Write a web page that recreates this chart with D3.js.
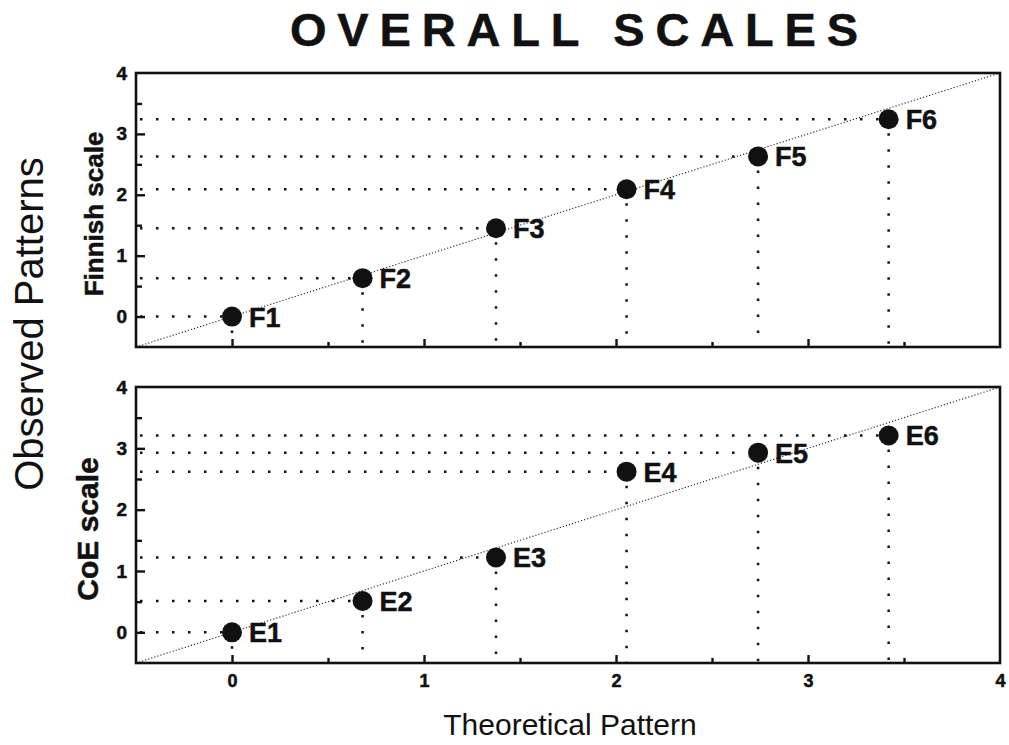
<!DOCTYPE html>
<html>
<head>
<meta charset="utf-8">
<script src="https://cdn.jsdelivr.net/npm/d3@7"></script>
<style>
  html, body { margin: 0; padding: 0; background: #fff; }
  svg { display: block; font-family: "Liberation Sans", Arial, Helvetica, sans-serif; }
</style>
</head>
<body>
<div id="chart"></div>
<script>
// theoretical pattern positions (shared by both panels)
const theory = [0, 0.68, 1.375, 2.055, 2.74, 3.42];
const finnishValues = [0, 0.63, 1.45, 2.09, 2.63, 3.24];
const finnishLabels = ["F1", "F2", "F3", "F4", "F5", "F6"];
const coeValues = [0, 0.51, 1.22, 2.62, 2.93, 3.21];
const coeLabels = ["E1", "E2", "E3", "E4", "E5", "E6"];
const majorTicks = [0, 1, 2, 3, 4];
const minorTicks = [0.5, 1.5, 2.5, 3.5];

const W = 1009, H = 745;
const frame = { left: 136, right: 1000 };
const panels = [
    { name: "Finnish scale", values: finnishValues, labels: finnishLabels, top: 73, bottom: 347, nameX: 94, nameSize: 26 },
    { name: "CoE scale", values: coeValues, labels: coeLabels, top: 387, bottom: 663, nameX: 87, nameSize: 30 }
];

const svg = d3.select("#chart").append("svg")
.attr("width", W)
.attr("height", H)
.attr("viewBox", `0 0 ${ W } ${ H }`);

const x = d3.scaleLinear().domain([-0.5, 4]).range([frame.left, frame.right]);

const dotted = sel => sel
.attr("stroke", "#111")
.attr("stroke-width", 2.5)
.attr("stroke-dasharray", "2.5,13.5");

// heavier bold, closer to the printed face
const heavy = (sel, size) => sel
.attr("font-size", size)
.attr("font-weight", "bold")
.attr("fill", "#111")
.attr("stroke", "#111")
.attr("stroke-width", 0.5);

panels.forEach((p, pi) => {
    const y = d3.scaleLinear().domain([-0.5, 4]).range([p.bottom, p.top]);
    const g = svg.append("g").attr("class", "panel");

    const clipId = "clip" + pi;
    svg.append("clipPath").attr("id", clipId)
    .append("rect")
    .attr("x", frame.left).attr("y", p.top)
    .attr("width", frame.right - frame.left).attr("height", p.bottom - p.top);

    // identity line y = x
    g.append("line")
    .attr("clip-path", `url(#${ clipId })`)
    .attr("x1", x(-0.5)).attr("y1", y(-0.5))
    .attr("x2", x(4)).attr("y2", y(4))
    .attr("stroke", "#222")
    .attr("stroke-width", 1.1)
    .attr("stroke-dasharray", "1.2,2");

    const pts = theory.map((t, i) => ({ t, v: p.values[i], label: p.labels[i] }));

    // horizontal dotted guides from the axis to the point
    g.selectAll(".hguide")
    .data(pts)
    .enter()
    .append("line")
    .attr("class", "hguide")
    .attr("x1", x(-0.5) + 4)
    .attr("x2", d => x(d.t) - 10)
    .attr("y1", d => y(d.v))
    .attr("y2", d => y(d.v))
    .call(dotted);

    // vertical dotted guides from the point down to the axis
    g.selectAll(".vguide")
    .data(pts)
    .enter()
    .append("line")
    .attr("class", "vguide")
    .attr("x1", d => x(d.t))
    .attr("x2", d => x(d.t))
    .attr("y1", d => y(d.v) + 14)
    .attr("y2", y(-0.5))
    .call(dotted);

    // frame
    g.append("rect")
    .attr("x", frame.left).attr("y", p.top)
    .attr("width", frame.right - frame.left).attr("height", p.bottom - p.top)
    .attr("fill", "none")
    .attr("stroke", "#111")
    .attr("stroke-width", 2.6);

    // y axis, ticks pointing inward
    const yMajor = g.append("g")
    .attr("transform", `translate(${ frame.left },0)`)
    .call(d3.axisLeft(y).tickValues(majorTicks).tickSize(-9).tickPadding(9).tickFormat(d3.format("d")));
    const yMinor = g.append("g")
    .attr("transform", `translate(${ frame.left },0)`)
    .call(d3.axisLeft(y).tickValues(minorTicks).tickSize(-6).tickFormat(""));

    // x axis, ticks pointing inward
    const xMajor = g.append("g")
    .attr("transform", `translate(0,${ p.bottom })`)
    .call(d3.axisBottom(x).tickValues(majorTicks).tickSize(-8).tickPadding(11).tickFormat(d3.format("d")));
    const xMinor = g.append("g")
    .attr("transform", `translate(0,${ p.bottom })`)
    .call(d3.axisBottom(x).tickValues(minorTicks).tickSize(-5).tickFormat(""));

    [yMajor, yMinor, xMajor, xMinor].forEach(a => {
        a.select(".domain").remove();
        a.attr("font-family", null);
        a.selectAll(".tick line").attr("stroke", "#111").attr("stroke-width", 2.4);
    });
    heavy(yMajor.selectAll(".tick text"), 19);
    yMajor.selectAll(".tick").filter(d => d === 4).select("line").remove();

    if (pi === 0) {
        xMajor.selectAll(".tick text").remove();
    } else {
        heavy(xMajor.selectAll(".tick text"), 18);
    }
    xMajor.selectAll(".tick").filter(d => d === 4).select("line").remove();

    // points
    g.selectAll(".dot")
    .data(pts)
    .enter()
    .append("circle")
    .attr("class", "dot")
    .attr("cx", d => x(d.t))
    .attr("cy", d => y(d.v))
    .attr("r", 10)
    .attr("fill", "#111");

    g.selectAll(".ptlabel")
    .data(pts)
    .enter()
    .append("text")
    .attr("class", "ptlabel")
    .attr("x", d => x(d.t) + 17)
    .attr("y", d => y(d.v))
    .attr("dy", "0.37em")
    .call(heavy, 27)
    .text(d => d.label);

    // panel name
    svg.append("text")
    .attr("transform", `translate(${ p.nameX },${ (p.top + p.bottom) / 2 + 4 }) rotate(-90)`)
    .attr("text-anchor", "middle")
    .attr("dy", "0.35em")
    .call(heavy, p.nameSize)
    .text(p.name);
});

// title
svg.append("text")
.attr("x", 290)
.attr("y", 46)
.attr("textLength", 568)
.attr("lengthAdjust", "spacing")
.style("font-family", "'Liberation Sans Narrow', 'Arial Narrow', 'Liberation Sans', sans-serif")
.call(heavy, 47)
.text("OVERALL SCALES");

// shared axis titles
svg.append("text")
.attr("transform", `translate(43,324) rotate(-90)`)
.attr("text-anchor", "middle")
.attr("font-size", 40)
.attr("fill", "#111")
.text("Observed Patterns");

svg.append("text")
.attr("x", 570)
.attr("y", 735)
.attr("text-anchor", "middle")
.attr("font-size", 30)
.attr("fill", "#111")
.text("Theoretical Pattern");
</script>
</body>
</html>
